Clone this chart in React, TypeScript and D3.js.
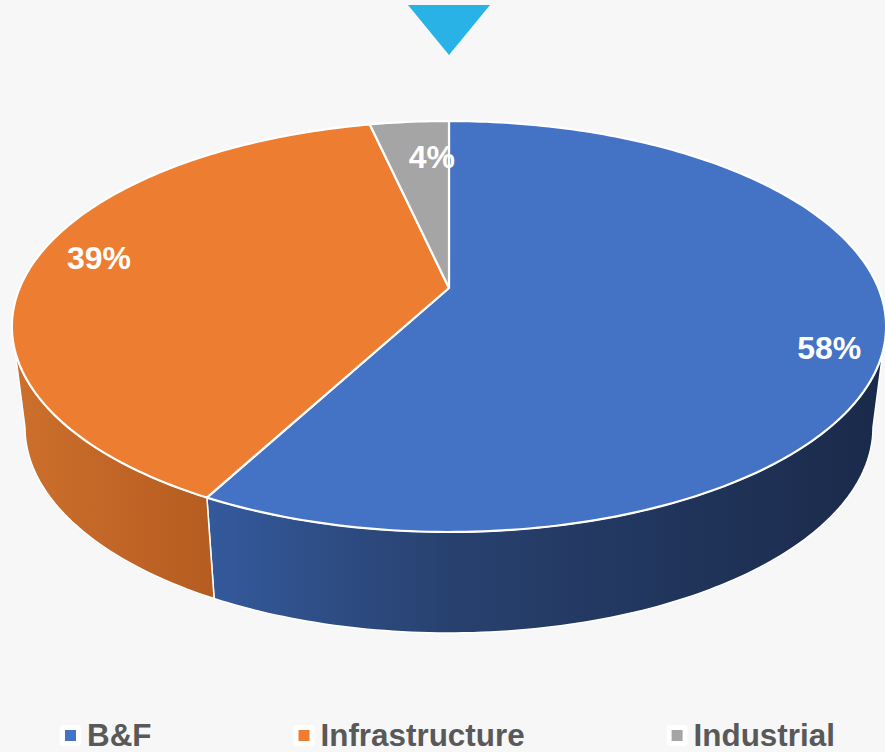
import React from "react";
import * as d3 from "d3";

const categories = ["B&F", "Infrastructure", "Industrial"];
const values = [57.8, 38.7, 3.5];
const colors = ["#4472C4", "#ED7D31", "#A5A5A5"];

const W = 885;
const H = 752;
const FONT = "'Liberation Sans', Arial, Helvetica, sans-serif";

// perspective model of the pie top
const sinA = 0.4618;
const cosA = 0.887;
const dist = 4.735;
const focal = 2033;
const cx0 = 449;
const cy0 = 288;
const depth = 101;
const shrink = 0.97;
const ellCx = 448.5;

function proj(theta: number, rho = 1): [number, number] {
  const X = rho * Math.sin(theta);
  const Z = rho * Math.cos(theta);
  const zc = dist + Z * cosA;
  return [cx0 + (focal * X) / zc, cy0 - (focal * Z * sinA) / zc];
}
function projBottom(theta: number): [number, number] {
  const [x, y] = proj(theta);
  return [ellCx + (x - ellCx) * shrink, y + depth];
}
function arcPoints(a0: number, a1: number, fn: (t: number) => [number, number]) {
  const n = Math.max(2, Math.ceil(((a1 - a0) * 180) / Math.PI));
  return d3.range(n + 1).map((i) => fn(a0 + ((a1 - a0) * i) / n));
}
const line = d3.line<[number, number]>();

const visL = Math.PI / 2 + Math.asin(cosA / dist);
const visR = 1.5 * Math.PI - Math.asin(cosA / dist);

const labelOffsets: [number, number][] = [
  [12, 17],
  [4, -7.5],
  [17.5, 13.6],
];

function textWidth(s: string, font: string) {
  if (typeof document === "undefined") return s.length * 18;
  const c = document.createElement("canvas");
  const ctx = c.getContext("2d")!;
  ctx.font = font;
  return ctx.measureText(s).width;
}

export default function App() {
  const arcs = d3.pie<number>().sort(null).value((d) => d)(values);
  const total = d3.sum(values);

  const sides = arcs
    .map((a, i) => {
      const s = Math.max(a.startAngle, visL);
      const e = Math.min(a.endAngle, visR);
      if (e <= s) return null;
      const top = arcPoints(s, e, (t) => proj(t));
      const bot = arcPoints(s, e, projBottom).reverse();
      return { i, d: line([...top, ...bot])! + "Z" };
    })
    .filter(Boolean) as { i: number; d: string }[];

  const tops = arcs.map((a, i) => {
    const pts = arcPoints(a.startAngle, a.endAngle, (t) => proj(t));
    return { i, d: line([[cx0, cy0], ...pts])! + "Z" };
  });

  // legend layout
  const legendSize = 31.4;
  const legendFont = `bold ${legendSize}px ${FONT}`;
  const gap = 142;
  const boxW = 21;
  const textGap = 6;
  const widths = categories.map((c) => boxW + textGap + textWidth(c, legendFont));
  const starts: number[] = [];
  let acc = 60;
  widths.forEach((w) => {
    starts.push(acc);
    acc += w + gap;
  });

  return (
    <svg
      width={W}
      height={H}
      style={{ position: "absolute", left: 0, top: 0 }}
      xmlns="http://www.w3.org/2000/svg"
    >
      <defs>
        <linearGradient id="side0" gradientUnits="userSpaceOnUse" x1={213} y1={0} x2={880} y2={0}>
          <stop offset="0" stopColor="#34599B" />
          <stop offset="0.35" stopColor="#28416F" />
          <stop offset="1" stopColor="#1A2A4A" />
        </linearGradient>
        <linearGradient id="side1" gradientUnits="userSpaceOnUse" x1={12} y1={0} x2={213} y2={0}>
          <stop offset="0" stopColor="#CD702D" />
          <stop offset="1" stopColor="#B55C20" />
        </linearGradient>
        <linearGradient id="side2" gradientUnits="userSpaceOnUse" x1={0} y1={0} x2={885} y2={0}>
          <stop offset="0" stopColor="#8A8A8A" />
          <stop offset="1" stopColor="#6A6A6A" />
        </linearGradient>
      </defs>
      <rect x={0} y={0} width={W} height={H} fill="#F7F7F7" />
      <path d="M408,5L490,5L449,55Z" fill="#29B2E6" />

      {sides.map((s) => (
        <path key={"s" + s.i} d={s.d} fill={`url(#side${s.i})`} stroke="#FFFFFF" strokeWidth={1.5} strokeLinejoin="round" />
      ))}
      {tops.map((t) => (
        <path key={"t" + t.i} d={t.d} fill={colors[t.i]} stroke="#FFFFFF" strokeWidth={2.2} strokeLinejoin="round" />
      ))}

      {arcs.map((a, i) => {
        const mid = (a.startAngle + a.endAngle) / 2;
        const [x, y] = proj(mid, 0.85);
        return (
          <text
            key={"l" + i}
            x={x + labelOffsets[i][0]}
            y={y + labelOffsets[i][1]}
            dy="0.35em"
            textAnchor="middle"
            fill="#FFFFFF"
            fontFamily={FONT}
            fontWeight="bold"
            fontSize={32}
          >
            {Math.round((values[i] / total) * 100)}%
          </text>
        );
      })}

      {categories.map((c, i) => (
        <g key={"g" + i} transform={`translate(${starts[i]},725)`}>
          <rect x={0} y={0} width={boxW} height={21} rx={3} fill="#FFFFFF" />
          <rect x={5} y={5} width={11} height={11} fill={colors[i]} />
          <text
            x={boxW + textGap}
            y={21}
            fill="#595959"
            fontFamily={FONT}
            fontWeight="bold"
            fontSize={legendSize}
          >
            {c}
          </text>
        </g>
      ))}
    </svg>
  );
}
